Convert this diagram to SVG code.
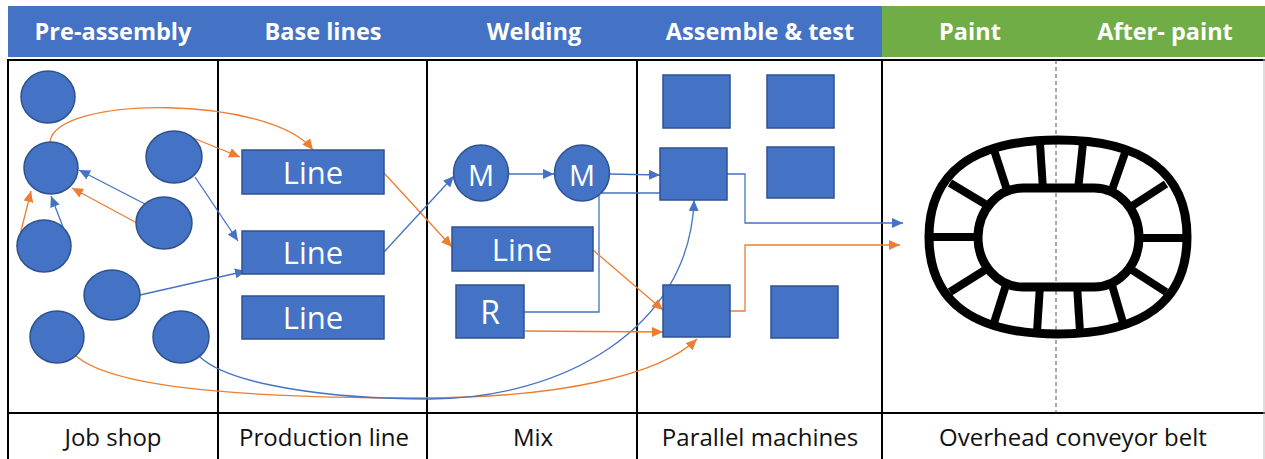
<svg xmlns="http://www.w3.org/2000/svg" width="1265" height="459" viewBox="0 0 1265 459">
  <style>
    .hdr { font-family: "Open Sans", "Liberation Sans", sans-serif; font-weight: 700; font-size: 23.5px; fill: #ffffff; text-anchor: middle; }
    .foot { font-family: "Open Sans", "Liberation Sans", sans-serif; font-size: 24px; fill: #111111; text-anchor: middle; }
    .lbl { font-family: "Open Sans", "Liberation Sans", sans-serif; fill: #ffffff; text-anchor: middle; }
    .node { fill: #4472C4; stroke: #2F528F; stroke-width: 1.5; }
    .grid { stroke: #000000; stroke-width: 2; fill: none; }
    .cb { fill: none; stroke: #4472C4; stroke-width: 1.3; }
    .co { fill: none; stroke: #ED7D31; stroke-width: 1.3; }
    .belt { fill: none; stroke: #000000; stroke-width: 9; }
    .spoke { stroke: #000000; stroke-width: 8; }
  </style>
  <defs>
    <marker id="arrB" markerUnits="userSpaceOnUse" markerWidth="12" markerHeight="10" refX="11" refY="5" orient="auto">
      <path d="M0,0 L11,5 L0,10 z" fill="#4472C4"/>
    </marker>
    <marker id="arrO" markerUnits="userSpaceOnUse" markerWidth="12" markerHeight="10" refX="11" refY="5" orient="auto">
      <path d="M0,0 L11,5 L0,10 z" fill="#ED7D31"/>
    </marker>
  </defs>

  <rect width="1265" height="459" fill="#ffffff"/>

  <!-- header band -->
  <g id="header">
    <rect x="8" y="6" width="874" height="51" fill="#4472C4"/>
    <rect x="882" y="6" width="383" height="51" fill="#70AD47"/>
    <text class="hdr" x="113" y="40">Pre-assembly</text>
    <text class="hdr" x="323" y="40">Base lines</text>
    <text class="hdr" x="534" y="40">Welding</text>
    <text class="hdr" x="760" y="40">Assemble &amp; test</text>
    <text class="hdr" x="970" y="40">Paint</text>
    <text class="hdr" x="1165" y="40">After- paint</text>
  </g>

  <!-- table grid -->
  <g id="grid">
    <line class="grid" x1="7" y1="60" x2="1265" y2="60"/>
    <line class="grid" x1="7" y1="413" x2="1265" y2="413"/>
    <line class="grid" x1="8" y1="59" x2="8" y2="459"/>
    <line class="grid" x1="218" y1="59" x2="218" y2="459"/>
    <line class="grid" x1="427" y1="59" x2="427" y2="459"/>
    <line class="grid" x1="637" y1="59" x2="637" y2="459"/>
    <line class="grid" x1="882" y1="59" x2="882" y2="459"/>
    <line x1="1264" y1="59" x2="1264" y2="459" stroke="#bbbbbb" stroke-width="1"/>
    <line x1="1056" y1="60" x2="1056" y2="413" stroke="#555555" stroke-width="1" stroke-dasharray="4 3"/>
  </g>

  <!-- footer labels -->
  <g id="footer">
    <text class="foot" x="113" y="446">Job shop</text>
    <text class="foot" x="324" y="446">Production line</text>
    <text class="foot" x="533" y="446">Mix</text>
    <text class="foot" x="760" y="446">Parallel machines</text>
    <text class="foot" x="1073" y="446">Overhead conveyor belt</text>
  </g>

  <!-- connectors -->
  <g id="connectors">
    <path class="co" d="M50,142 C55,95 270,95 313,150" marker-end="url(#arrO)"/>
    <path class="co" d="M193,138 L240,157" marker-end="url(#arrO)"/>
    <path class="cb" d="M195,177 L238,241" marker-end="url(#arrB)"/>
    <path class="cb" d="M145,204 L79,170" marker-end="url(#arrB)"/>
    <path class="co" d="M137,223 L72,188" marker-end="url(#arrO)"/>
    <path class="cb" d="M63,227 L51,196" marker-end="url(#arrB)"/>
    <path class="co" d="M17,247 L31,191" marker-end="url(#arrO)"/>
    <path class="cb" d="M140,295 L246,271" marker-end="url(#arrB)"/>
    <path class="co" d="M76,356 C110,385 220,398 420,398 C560,398 660,375 697,339" marker-end="url(#arrO)"/>
    <path class="cb" d="M200,357 C230,385 330,399 430,399 C560,399 690,330 694,200" marker-end="url(#arrB)"/>
    <path class="co" d="M384,173 L452,247" marker-end="url(#arrO)"/>
    <path class="cb" d="M384,252 L454,176" marker-end="url(#arrB)"/>
    <path class="cb" d="M508,174 L554,174" marker-end="url(#arrB)"/>
    <path class="cb" d="M609,174 L660,175" marker-end="url(#arrB)"/>
    <path class="cb" d="M524,312 L599,312 L599,193 L660,193"/>
    <path class="co" d="M525,331 L663,332" marker-end="url(#arrO)"/>
    <path class="co" d="M593,250 L663,310" marker-end="url(#arrO)"/>
    <path class="cb" d="M727,174 L745,174 L745,223 L903,223" marker-end="url(#arrB)"/>
    <path class="co" d="M730,311 L745,311 L745,245 L900,245" marker-end="url(#arrO)"/>
  </g>

  <!-- job shop machines -->
  <g id="js1"><ellipse class="node" cx="48" cy="97" rx="27" ry="26"/></g>
  <g id="js2"><ellipse class="node" cx="51" cy="168" rx="27" ry="26"/></g>
  <g id="js3"><ellipse class="node" cx="174" cy="157" rx="28" ry="26"/></g>
  <g id="js4"><ellipse class="node" cx="164" cy="223" rx="28" ry="26"/></g>
  <g id="js5"><ellipse class="node" cx="44" cy="246" rx="27" ry="26"/></g>
  <g id="js6"><ellipse class="node" cx="112" cy="295" rx="28" ry="25"/></g>
  <g id="js7"><ellipse class="node" cx="57" cy="337" rx="27" ry="26"/></g>
  <g id="js8"><ellipse class="node" cx="181" cy="337" rx="28" ry="26"/></g>

  <!-- production lines -->
  <g id="pl1"><rect class="node" x="242" y="150" width="142" height="44"/><text class="lbl" x="313" y="184" font-size="31">Line</text></g>
  <g id="pl2"><rect class="node" x="242" y="231" width="142" height="43"/><text class="lbl" x="313" y="264" font-size="31">Line</text></g>
  <g id="pl3"><rect class="node" x="242" y="296" width="142" height="43"/><text class="lbl" x="313" y="329" font-size="31">Line</text></g>

  <!-- mixed welding -->
  <g id="m1"><ellipse class="node" cx="481" cy="173" rx="27.5" ry="28"/><text class="lbl" x="481" y="186" font-size="29">M</text></g>
  <g id="m2"><ellipse class="node" cx="582" cy="173" rx="27.5" ry="28"/><text class="lbl" x="582" y="186" font-size="29">M</text></g>
  <g id="mixline"><rect class="node" x="452" y="227" width="141" height="44"/><text class="lbl" x="522" y="261" font-size="31">Line</text></g>
  <g id="r"><rect class="node" x="456" y="285" width="68" height="53"/><text class="lbl" x="490" y="324" font-size="32">R</text></g>

  <!-- parallel machines -->
  <g id="pm1"><rect class="node" x="663" y="75" width="67" height="53"/></g>
  <g id="pm2"><rect class="node" x="767" y="75" width="67" height="53"/></g>
  <g id="pm3"><rect class="node" x="660" y="148" width="67" height="52"/></g>
  <g id="pm4"><rect class="node" x="767" y="147" width="67" height="51"/></g>
  <g id="pm5"><rect class="node" x="663" y="285" width="67" height="52"/></g>
  <g id="pm6"><rect class="node" x="771" y="286" width="67" height="52"/></g>

  <!-- overhead conveyor belt: outer track, inner track and cross slats -->
  <g id="conveyor">
    <path class="belt" d="M1058,140 C1143,140 1187,173 1187,237 C1187,301 1143,334 1058,334 C973,334 929,301 929,237 C929,173 973,140 1058,140 Z"/>
    <rect class="belt" x="978" y="188" width="161" height="99" rx="45" ry="49.5"/>
    <line class="spoke" x1="994" y1="150" x2="1007" y2="190"/>
    <line class="spoke" x1="1040" y1="143" x2="1043" y2="190"/>
    <line class="spoke" x1="1083" y1="143" x2="1078" y2="190"/>
    <line class="spoke" x1="1126" y1="150" x2="1112" y2="190"/>
    <line class="spoke" x1="950" y1="183" x2="985" y2="204"/>
    <line class="spoke" x1="931" y1="237" x2="980" y2="237"/>
    <line class="spoke" x1="950" y1="292" x2="985" y2="270"/>
    <line class="spoke" x1="1166" y1="184" x2="1132" y2="206"/>
    <line class="spoke" x1="1137" y1="238" x2="1185" y2="238"/>
    <line class="spoke" x1="1166" y1="292" x2="1132" y2="270"/>
    <line class="spoke" x1="993" y1="326" x2="1006" y2="285"/>
    <line class="spoke" x1="1037" y1="332" x2="1040" y2="285"/>
    <line class="spoke" x1="1080" y1="332" x2="1077" y2="285"/>
    <line class="spoke" x1="1124" y1="326" x2="1112" y2="285"/>
  </g>
</svg>
